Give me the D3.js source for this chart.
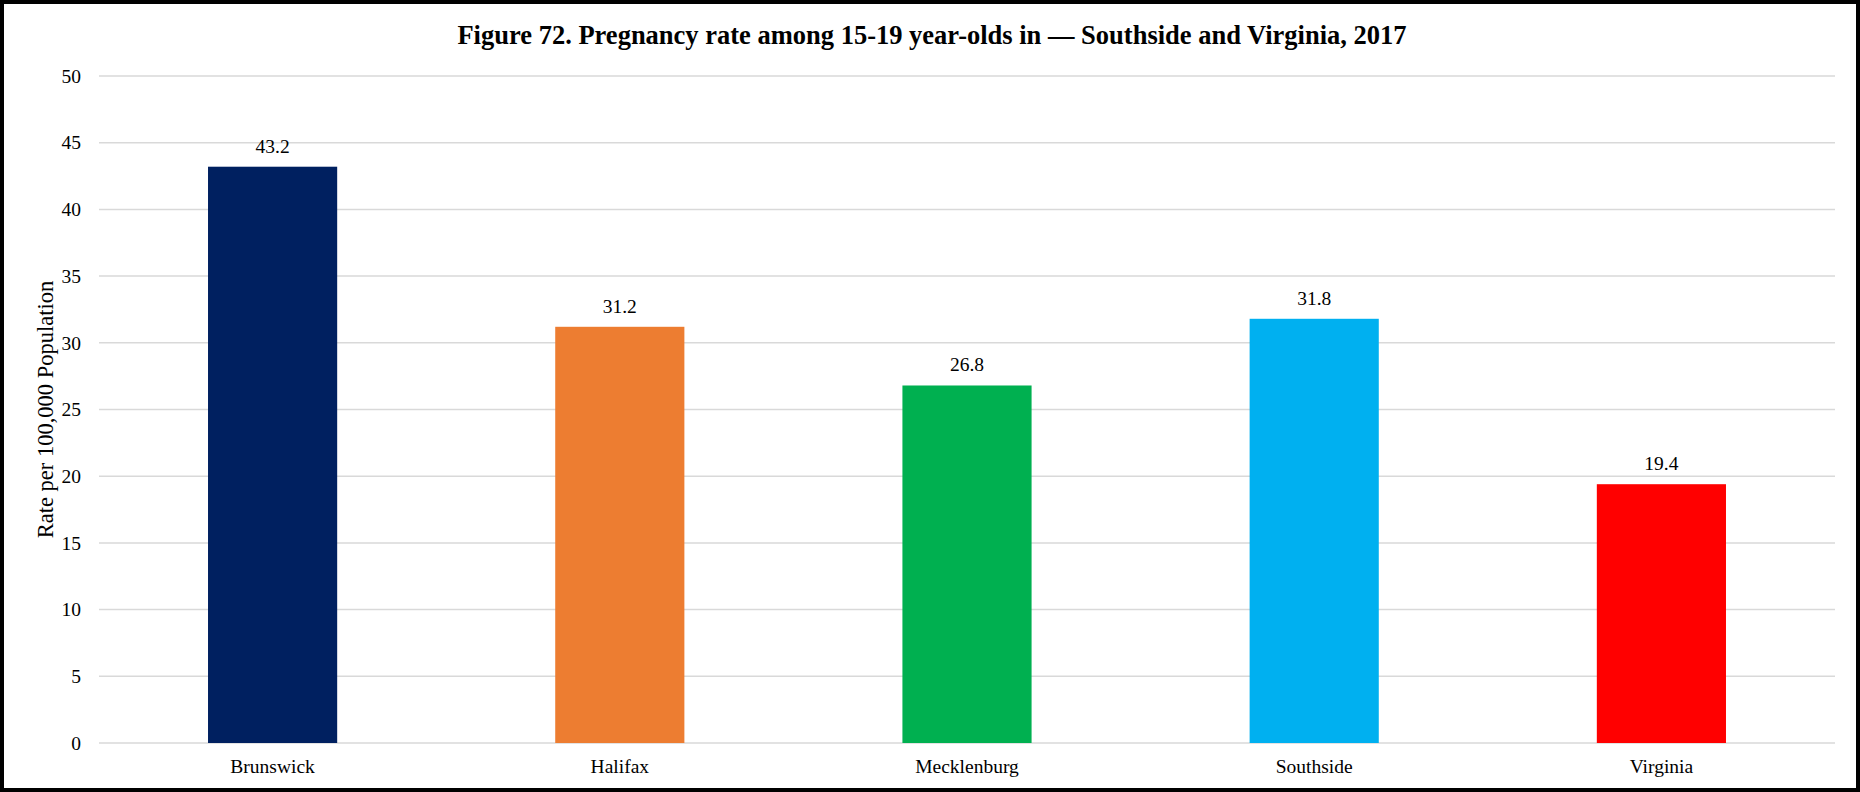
<!DOCTYPE html>
<html>
<head>
<meta charset="utf-8">
<script src="https://cdn.jsdelivr.net/npm/d3@7"></script>
<style>
  body { margin: 0; background: #fff; }
  svg { display: block; font-family: "Liberation Serif", "Times New Roman", serif; }
</style>
</head>
<body>
<div id="chart"></div>
<script>
const categories = ["Brunswick", "Halifax", "Mecklenburg", "Southside", "Virginia"];
const values = [43.2, 31.2, 26.8, 31.8, 19.4];
const barColors = ["#002060", "#ED7D31", "#00B050", "#00B0F0", "#FF0000"];
const yTicks = [0, 5, 10, 15, 20, 25, 30, 35, 40, 45, 50];
const titleText = "Figure 72. Pregnancy rate among 15-19 year-olds in \u2014 Southside and Virginia, 2017";
const yTitle = "Rate per 100,000 Population";

const width = 1860, height = 792;
const margins = {l: 99, r: 25, t: 76, b: 49};
const serif = "Liberation Serif, Times New Roman, serif";

const svg = d3.select("#chart").append("svg")
  .attr("width", width)
  .attr("height", height);

// outer frame
svg.append("rect")
  .attr("x", 2).attr("y", 2)
  .attr("width", width - 4).attr("height", height - 4)
  .attr("fill", "#fff")
  .attr("stroke", "#000")
  .attr("stroke-width", 4);

const xScale = d3.scaleBand()
  .domain(categories)
  .range([margins.l, width - margins.r])
  .paddingInner(0.628)
  .paddingOuter(0.314);

const yScale = d3.scaleLinear()
  .domain([0, 50])
  .range([height - margins.b, margins.t]);

// gridlines
svg.append("g")
  .selectAll("line")
  .data(yTicks)
  .join("line")
  .attr("x1", margins.l)
  .attr("x2", width - margins.r)
  .attr("y1", d => yScale(d))
  .attr("y2", d => yScale(d))
  .attr("stroke", "#d9d9d9")
  .attr("stroke-width", 1.5);

// y axis labels
const yAxis = d3.axisLeft(yScale).tickValues(yTicks).tickSize(0).tickPadding(0);
svg.append("g")
  .attr("transform", `translate(${margins.l - 18},0)`)
  .call(yAxis)
  .call(g => g.select(".domain").remove())
  .call(g => g.selectAll("text")
    .attr("font-family", serif)
    .attr("font-size", "19.5px")
    .attr("fill", "#000"));

// x axis labels
const xAxis = d3.axisBottom(xScale).tickSize(0).tickPadding(0);
svg.append("g")
  .attr("transform", `translate(0,${height - margins.b + 16})`)
  .call(xAxis)
  .call(g => g.select(".domain").remove())
  .call(g => g.selectAll("text")
    .attr("font-family", serif)
    .attr("font-size", "19.5px")
    .attr("fill", "#000"));

// bars
svg.append("g")
  .selectAll("rect")
  .data(values)
  .join("rect")
  .attr("x", (d, i) => xScale(categories[i]))
  .attr("y", d => yScale(d))
  .attr("width", xScale.bandwidth())
  .attr("height", d => yScale(0) - yScale(d))
  .attr("fill", (d, i) => barColors[i]);

// value labels
svg.append("g")
  .selectAll("text")
  .data(values)
  .join("text")
  .attr("x", (d, i) => xScale(categories[i]) + xScale.bandwidth() / 2)
  .attr("y", d => yScale(d) - 14)
  .attr("text-anchor", "middle")
  .attr("font-family", serif)
  .attr("font-size", "19.5px")
  .attr("fill", "#000")
  .text(d => d.toFixed(1));

// title
svg.append("text")
  .attr("x", 932)
  .attr("y", 44)
  .attr("text-anchor", "middle")
  .attr("font-family", serif)
  .attr("font-size", "26.5px")
  .attr("font-weight", "bold")
  .attr("fill", "#000")
  .text(titleText);

// y axis title
svg.append("text")
  .attr("transform", `translate(53,${(yScale(0) + yScale(50)) / 2}) rotate(-90)`)
  .attr("text-anchor", "middle")
  .attr("font-family", serif)
  .attr("font-size", "22.5px")
  .attr("fill", "#000")
  .text(yTitle);
</script>
</body>
</html>
